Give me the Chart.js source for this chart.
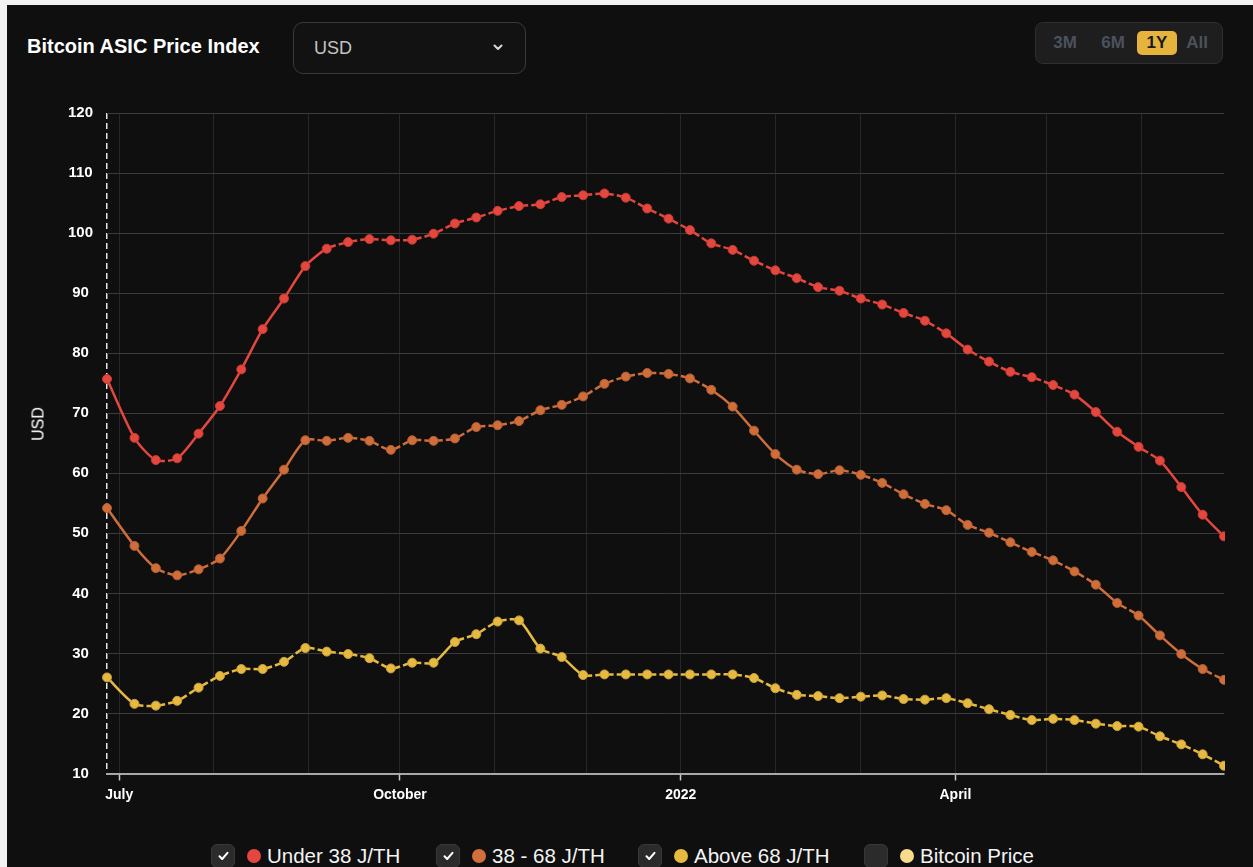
<!DOCTYPE html>
<html>
<head>
<meta charset="utf-8">
<script src="https://cdn.jsdelivr.net/npm/chart.js@4.4.1/dist/chart.umd.min.js"></script>
<style>
  html, body { margin:0; padding:0; width:1253px; height:867px; overflow:hidden; background:#f2f2f2; font-family:"Liberation Sans", Arial, sans-serif; }
  #panel { position:absolute; left:7px; top:5px; width:1246px; height:862px; background:#0f0f0f; }
  #title { position:absolute; left:27px; top:34px; line-height:24px; font-size:20px; font-weight:bold; color:#fff; white-space:nowrap; }
  #select { position:absolute; left:293px; top:22px; width:231px; height:50px; border:1px solid #3a3a3a; border-radius:10px; background:#121212; box-sizing:content-box; }
  #select span { position:absolute; left:20px; top:13px; line-height:24px; font-size:18px; color:#c4c4c4; }
  #select svg { position:absolute; left:199px; top:21px; }
  #range { position:absolute; left:1035px; top:22px; width:186px; height:40px; border:1px solid #2f2f2f; border-radius:8px; background:#1e1e1e; }
  .rb { position:absolute; top:8px; height:24px; line-height:24px; font-size:17px; font-weight:bold; color:#4b525d; text-align:center; }
  .rb.on { background:#e6b43c; color:#1a1a1a; border-radius:5px; }
  #chartWrap { position:absolute; left:0; top:90px; width:1253px; height:730px; }
  #ytitle { position:absolute; left:38px; top:424px; width:0; height:0; }
  #ytitle span { position:absolute; left:0; top:0; transform:translate(-50%,-50%) rotate(-90deg); font-size:16px; color:#fff; white-space:nowrap; line-height:19px; }
  .lg { position:absolute; top:844px; height:24px; display:flex; align-items:center; white-space:nowrap; }
  .cb { width:24px; height:24px; border-radius:6px; background:#2b2b2b; border:1px solid #383838; box-sizing:border-box; position:relative; }
  .cb svg { position:absolute; left:6px; top:6px; }
  .dot { width:14px; height:14px; border-radius:50%; margin-left:12px; margin-right:6px; }
  .lt { font-size:20.5px; color:#f4f4f4; line-height:24px; }
</style>
</head>
<body>
<div id="panel"></div>
<div id="title">Bitcoin ASIC Price Index</div>
<div id="select"><span>USD</span>
  <svg width="10" height="7" viewBox="0 0 10 7"><polyline points="1.5,1.5 5,5 8.5,1.5" fill="none" stroke="#d8d8d8" stroke-width="2" stroke-linecap="round" stroke-linejoin="round"/></svg>
</div>
<div id="range"></div>
<div id="chartWrap"><canvas id="c" width="1253" height="730" style="width:1253px;height:730px;"></canvas></div>
<div id="ytitle"><span>USD</span></div>
<div id="legend"></div>

<script>
// ---------- data ----------
const dates = [
  "2021-06-27","2021-07-06","2021-07-13","2021-07-20","2021-07-27","2021-08-03","2021-08-10","2021-08-17",
  "2021-08-24","2021-08-31","2021-09-07","2021-09-14","2021-09-21","2021-09-28","2021-10-05","2021-10-12",
  "2021-10-19","2021-10-26","2021-11-02","2021-11-09","2021-11-16","2021-11-23","2021-11-30","2021-12-07",
  "2021-12-14","2021-12-21","2021-12-28","2022-01-04","2022-01-11","2022-01-18","2022-01-25","2022-02-01",
  "2022-02-08","2022-02-15","2022-02-22","2022-03-01","2022-03-08","2022-03-15","2022-03-22","2022-03-29",
  "2022-04-05","2022-04-12","2022-04-19","2022-04-26","2022-05-03","2022-05-10","2022-05-17","2022-05-24",
  "2022-05-31","2022-06-07","2022-06-14","2022-06-21","2022-06-28"
];
const under38 = [75.7,65.9,62.2,62.5,66.6,71.2,77.3,84.0,89.1,94.5,
  97.4,98.5,99.0,98.8,98.9,99.9,101.6,102.6,
  103.7,104.5,104.8,106.0,106.3,106.6,105.9,104.1,102.4,100.5,
  98.3,97.2,95.4,93.8,92.5,91.0,90.4,89.1,
  88.1,86.7,85.4,83.3,80.6,78.6,76.9,76.0,74.7,73.1,
  70.2,66.9,64.4,62.1,57.7,53.1,49.5];
const from38to68 = [54.2,47.9,44.2,43.0,44.0,45.8,50.4,55.8,60.6,65.5,
  65.4,65.9,65.4,63.9,65.5,65.4,65.8,67.7,
  68.0,68.7,70.5,71.4,72.8,74.9,76.1,76.7,76.55,75.8,
  73.9,71.1,67.1,63.2,60.6,59.85,60.5,59.75,
  58.4,56.5,54.9,53.85,51.4,50.1,48.5,46.9,45.5,43.65,
  41.45,38.4,36.3,33.0,29.9,27.4,25.6];
const above68 = [26.0,21.6,21.3,22.1,24.3,26.25,27.4,27.4,28.6,30.9,
  30.3,29.9,29.2,27.5,28.45,28.45,31.9,33.2,
  35.3,35.5,30.8,29.4,26.4,26.5,26.5,26.5,26.5,26.5,
  26.5,26.5,25.9,24.2,23.1,22.9,22.55,22.8,
  23.0,22.4,22.3,22.55,21.7,20.7,19.75,18.9,19.1,18.9,
  18.3,17.9,17.8,16.2,14.85,13.2,11.3];
const seriesNames = ["Under 38 J/TH","38 - 68 J/TH","Above 68 J/TH","Bitcoin Price"];
const seriesChecked = [true,true,true,false];
const seriesColors = ["#e5463d","#d36f3a","#e8b940","#f7da8c"];
const xTickDates = ["2021-07-01","2021-08-01","2021-09-01","2021-10-01","2021-11-01","2021-12-01",
  "2022-01-01","2022-02-01","2022-03-01","2022-04-01","2022-05-01","2022-06-01"];
const xTickLabels = ["July","","","October","","","2022","","","April","",""];
const yTicks = [10,20,30,40,50,60,70,80,90,100,110,120];
const yTitle = "USD";
const rangeButtons = ["3M","6M","1Y","All"];
const rangeActive = "1Y";

// ---------- header buttons ----------
const rangePos = [[16,26],[63,28],[101,40],[149,24]];
const range = document.getElementById('range');
rangeButtons.forEach((t,i)=>{
  const d=document.createElement('div');
  d.className='rb'+(t===rangeActive?' on':'');
  d.style.left=rangePos[i][0]+'px'; d.style.width=rangePos[i][1]+'px';
  d.textContent=t; range.appendChild(d);
});
document.querySelector('#ytitle span').textContent=yTitle;

// ---------- legend ----------
const legendLeft=[211,436,638,864];
const lg=document.getElementById('legend');
seriesNames.forEach((n,i)=>{
  const it=document.createElement('div'); it.className='lg'; it.style.left=legendLeft[i]+'px';
  const cb=document.createElement('div'); cb.className='cb';
  if(seriesChecked[i]) cb.innerHTML='<svg width="11" height="10" viewBox="0 0 11 10"><polyline points="1.5,5.2 4.2,8 9.5,1.8" fill="none" stroke="#fff" stroke-width="2" stroke-linecap="round" stroke-linejoin="round"/></svg>';
  const dot=document.createElement('div'); dot.className='dot'; dot.style.background=seriesColors[i];
  const tx=document.createElement('span'); tx.className='lt'; tx.textContent=n;
  it.appendChild(cb); it.appendChild(dot); it.appendChild(tx); lg.appendChild(it);
});

// ---------- chart ----------
const dayNum = d => Date.parse(d+'T00:00:00Z')/86400000;
const seriesValues=[under38,from38to68,above68];
const lineColors=["#e3473e","#cf6e3b","#e6b941"];
const pointBorders=["#c93a33","#b45e31","#c9a037"];

// x ticks: the axis start (drawn as the dashed white edge line) + month starts
const xTickValues=[dayNum(dates[0])].concat(xTickDates.map(dayNum));
const xLabels=[""].concat(xTickLabels);

function segDash(c){
  const L=Math.hypot(c.p1.x-c.p0.x,c.p1.y-c.p0.y);
  if(L>26) return [];
  const g=3; const a=Math.max((L-g)/2,1);
  return [a,g,L+20];
}

Chart.defaults.font.family='"Liberation Sans", Arial, sans-serif';
new Chart(document.getElementById('c'),{
  type:'line',
  data:{datasets: seriesValues.map((vals,k)=>({
    label:seriesNames[k],
    data:dates.map((d,i)=>({x:dayNum(d),y:vals[i]})),
    borderColor:lineColors[k],
    backgroundColor:lineColors[k],
    borderWidth:2.5,
    tension:0.25,
    pointRadius:4.5,
    pointBackgroundColor:lineColors[k],
    pointBorderColor:pointBorders[k],
    pointBorderWidth:1,
    clip:{left:8,top:8,right:1,bottom:8},
    segment:{
      borderDash:segDash,
      borderDashOffset:c=>c.p0DataIndex*1e-6
    }
  }))},
  options:{
    responsive:false, animation:false, events:[],
    layout:{padding:{top:18.8,right:29,bottom:6.5,left:0}},
    plugins:{legend:{display:false},tooltip:{enabled:false}},
    scales:{
      x:{type:'linear',
        min:dayNum(dates[0]), max:dayNum(dates[dates.length-1]),
        afterBuildTicks:s=>{ s.ticks=xTickValues.map(v=>({value:v})); },
        afterFit:s=>{ s.height=40; },
        ticks:{autoSkip:false,maxRotation:0,minRotation:0,padding:6,color:'#ffffff',
          font:{size:14,weight:'bold'},
          callback:(v,i)=>xLabels[i]},
        grid:{
          color:c=>c.index===0?'#e6e6e6':'#272727',
          lineWidth:c=>c.index===0?1.5:1,
          tickLength:7,tickWidth:1.5,
          tickColor:c=>xLabels[c.index]?'#c8c8c8':'rgba(0,0,0,0)'},
        border:{color:'#a8a8a8',width:2,dash:c=>c.index===0?[6,4]:[]}
      },
      y:{min:yTicks[0],max:yTicks[yTicks.length-1],
        afterBuildTicks:s=>{ s.ticks=yTicks.map(v=>({value:v})); },
        afterFit:s=>{ s.width=107; },
        ticks:{padding:14,crossAlign:'center',color:'#ffffff',font:{size:15,weight:'bold'}},
        grid:{color:'#3b3b3b',lineWidth:1,drawTicks:false},
        border:{display:false}
      }
    }
  }
});
</script>
</body>
</html>
